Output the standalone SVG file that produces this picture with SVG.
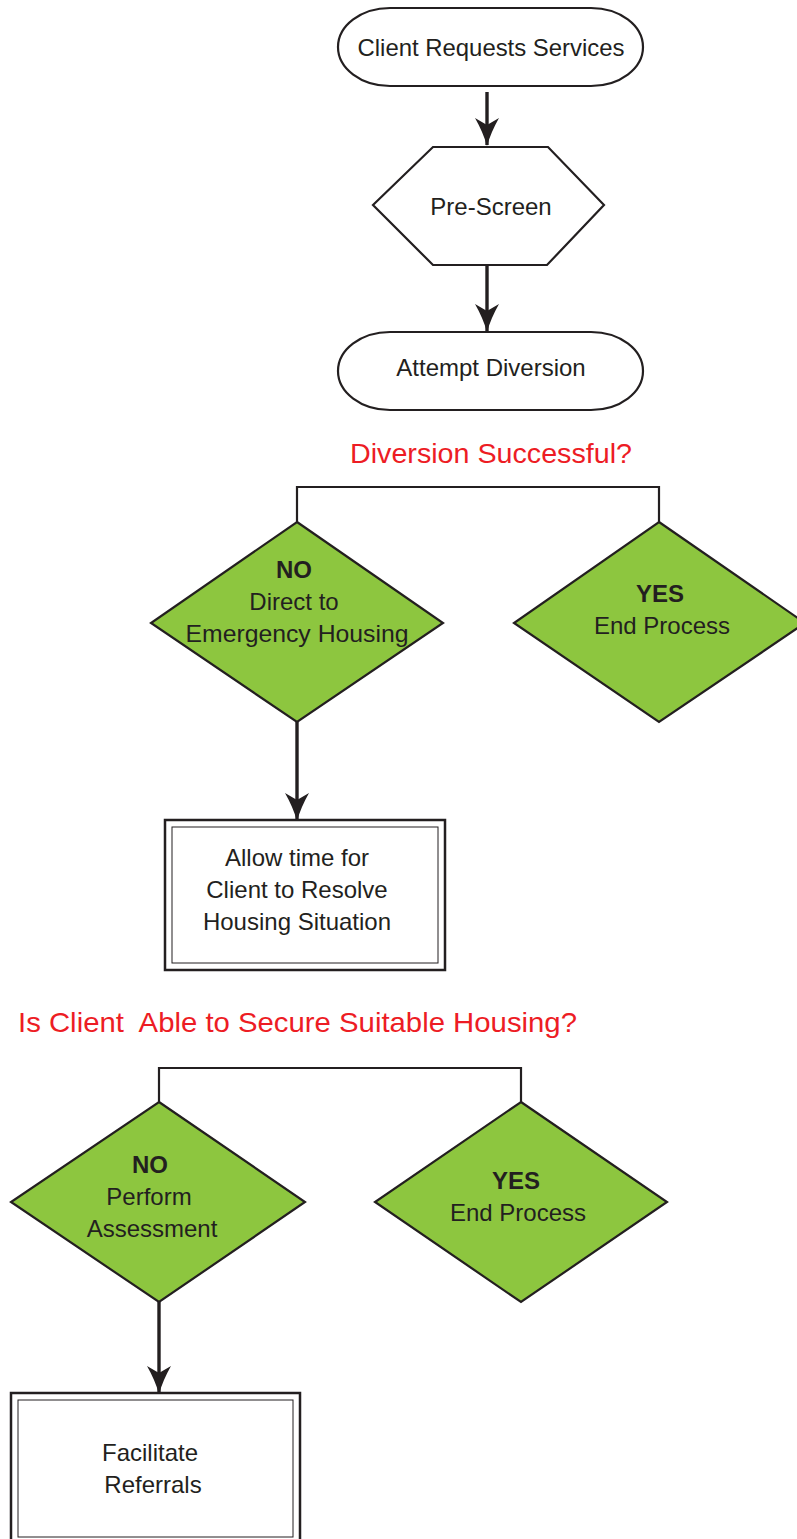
<svg xmlns="http://www.w3.org/2000/svg" width="797" height="1539" viewBox="0 0 797 1539">
<style>
.ln{fill:none;stroke:#231F20;stroke-width:2.2}
.shape{fill:#fff;stroke:#231F20;stroke-width:2.2}
.dia{fill:#8DC63F;stroke:#231F20;stroke-width:2.2}
.arr{fill:none;stroke:#231F20;stroke-width:3.4}
.t{font-family:"Liberation Sans",Arial,sans-serif;font-size:24px;fill:#231F20;text-anchor:middle}
.b{font-weight:bold}
.red{font-family:"Liberation Sans",Arial,sans-serif;font-size:28.5px;fill:#ED1C24;text-anchor:middle}
</style>
<defs>
<marker id="ah" markerUnits="userSpaceOnUse" viewBox="0 -13 28 26" refX="27" refY="0" markerWidth="28" markerHeight="26" orient="auto">
<path d="M0,-12 Q14,-4 28,0 Q14,4 0,12 L7,0 Z" fill="#231F20"/>
</marker>
</defs>
<g id="connectors">
<line class="arr" x1="487" y1="92" x2="487" y2="145" marker-end="url(#ah)"/>
<line class="arr" x1="487" y1="265" x2="487" y2="331" marker-end="url(#ah)"/>
<polyline class="ln" points="297,522 297,487 659,487 659,522"/>
<line class="arr" x1="297" y1="722" x2="297" y2="820" marker-end="url(#ah)"/>
<polyline class="ln" points="159,1102 159,1068 521,1068 521,1102"/>
<line class="arr" x1="159" y1="1302" x2="159" y2="1393" marker-end="url(#ah)"/>
</g>
<g id="client-requests">
<rect class="shape" x="338" y="8" width="305" height="78" rx="52" ry="39"/>
<text class="t" x="491" y="56" textLength="267" lengthAdjust="spacingAndGlyphs">Client Requests Services</text>
</g>
<g id="pre-screen">
<polygon class="shape" points="373,205 433,147 548,147 604,205 547,265 433,265"/>
<text class="t" x="491" y="215">Pre-Screen</text>
</g>
<g id="attempt-diversion">
<rect class="shape" x="338" y="332" width="305" height="78" rx="52" ry="39"/>
<text class="t" x="491" y="376">Attempt Diversion</text>
</g>
<g id="q1">
<text class="red" x="491" y="463" textLength="282" lengthAdjust="spacingAndGlyphs">Diversion Successful?</text>
</g>
<g id="no1">
<polygon class="dia" points="297,522 443,623 297,722 151,623"/>
<text class="t b" x="294" y="578">NO</text>
<text class="t" x="294" y="610">Direct to</text>
<text class="t" x="297" y="642" textLength="223" lengthAdjust="spacingAndGlyphs">Emergency Housing</text>
</g>
<g id="yes1">
<polygon class="dia" points="659,522 805,623 659,722 514,623"/>
<text class="t b" x="660" y="602">YES</text>
<text class="t" x="662" y="634">End Process</text>
</g>
<g id="allow-time">
<rect x="165" y="820" width="280" height="150" fill="#fff" stroke="#231F20" stroke-width="2.5"/>
<rect x="172" y="827" width="266" height="136" fill="none" stroke="#231F20" stroke-width="1"/>
<text class="t" x="297" y="866">Allow time for</text>
<text class="t" x="297" y="898">Client to Resolve</text>
<text class="t" x="297" y="930">Housing Situation</text>
</g>
<g id="q2">
<text class="red" x="297.5" y="1032" xml:space="preserve" textLength="559" lengthAdjust="spacingAndGlyphs">Is Client  Able to Secure Suitable Housing?</text>
</g>
<g id="no2">
<polygon class="dia" points="159,1102 305,1202 159,1302 11,1202"/>
<text class="t b" x="150" y="1173">NO</text>
<text class="t" x="149" y="1205">Perform</text>
<text class="t" x="152" y="1237">Assessment</text>
</g>
<g id="yes2">
<polygon class="dia" points="521,1102 667,1202 521,1302 375,1202"/>
<text class="t b" x="516" y="1189">YES</text>
<text class="t" x="518" y="1221">End Process</text>
</g>
<g id="facilitate">
<rect x="11" y="1393" width="289" height="152" fill="#fff" stroke="#231F20" stroke-width="2.5"/>
<rect x="18" y="1400" width="275" height="137" fill="none" stroke="#231F20" stroke-width="1"/>
<text class="t" x="150" y="1461">Facilitate</text>
<text class="t" x="153" y="1493">Referrals</text>
</g>
</svg>
